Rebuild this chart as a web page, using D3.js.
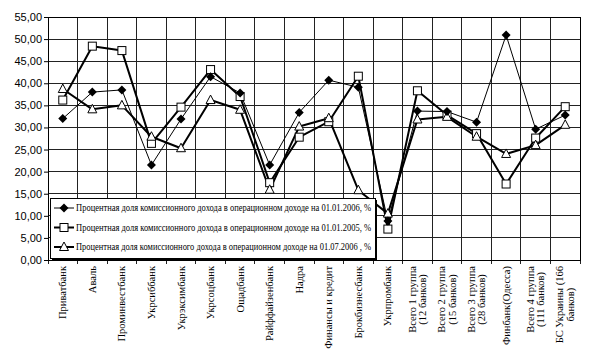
<!DOCTYPE html>
<html>
<head>
<meta charset="utf-8">
<script src="https://cdn.jsdelivr.net/npm/d3@7"></script>
<style>
  body { margin: 0; background: #fff; }
  svg { display: block; }
</style>
</head>
<body>
<div id="chart"></div>
<script>
// categories (banks), "\n" marks a line break in the axis label
var banks = ["Приватбанк", "Аваль", "Проминвестбанк", "Укрсиббанк", "Укрэксимбанк",
  "Укрсоцбанк", "Ощадбанк", "Райффайзенбанк", "Надра", "Финансы и кредит",
  "Брокбизнесбанк", "Укрпромбанк", "Всего 1 группа\n(12 банков)", "Всего 2 группа\n(15 банков)",
  "Всего 3 группа\n(28 банков)", "Финбанк(Одесса)", "Всего 4 группа\n(111 банков)",
  "БС Украины (166\nбанков)"];

var share2006 = [32.0, 38.0, 38.5, 21.5, 31.9, 41.5, 37.8, 21.5, 33.4, 40.7,
  39.1, 8.8, 33.7, 33.6, 31.2, 50.9, 29.6, 32.8];
var share2005 = [36.2, 48.4, 47.4, 26.4, 34.6, 43.1, 37.0, 17.5, 27.8, 31.3,
  41.6, 7.0, 38.3, 32.8, 28.6, 17.2, 27.6, 34.7];
var share2006h = [38.7, 34.1, 35.0, 27.9, 25.3, 36.2, 34.0, 15.9, 30.2, 32.1,
  15.8, 10.5, 31.8, 32.4, 27.9, 24.0, 26.0, 30.6];

var seriesNames = [
  "Процентная доля комиссионного дохода в операционном доходе на  01.01.2006, %",
  "Процентная доля комиссионного дохода в операционном доходе на 01.01.2005, %",
  "Процентная доля комиссионного дохода в операционном доходе на 01.07.2006 , %"
];

var yTicks = [0, 5, 10, 15, 20, 25, 30, 35, 40, 45, 50, 55];

var width = 589, height = 351;
var margin = {top: 17, right: 9, bottom: 91, left: 48};
var plotW = width - margin.left - margin.right,
    plotH = height - margin.top - margin.bottom;

var serif = "'Liberation Serif', 'Times New Roman', 'DejaVu Serif', serif";

var svg = d3.select("#chart").append("svg")
    .attr("width", width)
    .attr("height", height);

var g = svg.append("g")
    .attr("transform", "translate(" + margin.left + "," + margin.top + ")");

var x = d3.scaleBand().domain(d3.range(banks.length)).range([0, plotW]);
var y = d3.scaleLinear().domain([0, 55]).range([plotH, 0]);

// horizontal grid
g.selectAll(".hgrid")
  .data(yTicks)
  .enter().append("line")
    .attr("x1", 0).attr("x2", plotW)
    .attr("y1", function(d) { return y(d); })
    .attr("y2", function(d) { return y(d); })
    .attr("stroke", "#222").attr("stroke-width", 1)
    .attr("shape-rendering", "crispEdges");

// vertical grid at category boundaries
var bounds = d3.range(banks.length + 1).map(function(i) { return i * x.bandwidth(); });
g.selectAll(".vgrid")
  .data(bounds)
  .enter().append("line")
    .attr("x1", function(d) { return d; })
    .attr("x2", function(d) { return d; })
    .attr("y1", 0).attr("y2", plotH + 4)
    .attr("stroke", "#222").attr("stroke-width", 1)
    .attr("shape-rendering", "crispEdges");

// y axis
var yAxis = d3.axisLeft(y)
    .tickValues(yTicks)
    .tickSize(4)
    .tickFormat(function(d) { return d3.format(".2f")(d).replace(".", ","); });

var gy = g.append("g").call(yAxis);
gy.select(".domain").attr("stroke", "#000");
gy.selectAll(".tick line").attr("stroke", "#000");
gy.selectAll("text")
  .attr("x", -6)
  .style("font-family", "'Liberation Sans', Arial, sans-serif")
  .style("font-size", "11px")
  .attr("fill", "#000");

// x axis labels, rotated
var xLab = g.append("g").attr("class", "xlabels");
banks.forEach(function(name, i) {
  var lines = name.split("\n");
  var cx = x(i) + x.bandwidth() / 2;
  var t = xLab.append("text")
    .style("font-family", serif)
    .style("font-size", "10.5px")
    .attr("text-anchor", "middle")
    .attr("fill", "#000");
  lines.forEach(function(l, k) {
    t.append("tspan").attr("x", 0).attr("dy", k == 0 ? 0 : 10.5).text(l);
  });
  var maxLen = d3.max(t.selectAll("tspan").nodes(), function(n) { return n.getComputedTextLength(); });
  var blockH = (lines.length - 1) * 10.5;
  // top of label sits just under the axis
  t.attr("transform", "translate(" + (cx + 3.5 - blockH / 2) + "," + (plotH + 6 + maxLen / 2) + ") rotate(-90)");
});

// series
var series = [
  {values: share2005, width: 2, marker: "square"},
  {values: share2006h, width: 2, marker: "triangle"},
  {values: share2006, width: 1, marker: "diamond"}
];

var line = d3.line()
    .x(function(d, i) { return x(i) + x.bandwidth() / 2; })
    .y(function(d) { return y(d); });

series.forEach(function(s) {
  g.append("path")
    .datum(s.values)
    .attr("d", line)
    .attr("fill", "none")
    .attr("stroke", "#000")
    .attr("stroke-width", s.width)
    .attr("stroke-linejoin", "round");
});

function drawMarker(sel, type, cx, cy) {
  if (type == "diamond") {
    sel.append("path")
      .attr("d", "M" + cx + "," + (cy - 4.5) + "L" + (cx + 4.5) + "," + cy + "L" + cx + "," + (cy + 4.5) + "L" + (cx - 4.5) + "," + cy + "Z")
      .attr("fill", "#000");
  } else if (type == "square") {
    sel.append("rect")
      .attr("x", cx - 4).attr("y", cy - 4)
      .attr("width", 8).attr("height", 8)
      .attr("fill", "#fff").attr("stroke", "#000").attr("stroke-width", 1);
  } else {
    sel.append("path")
      .attr("d", "M" + cx + "," + (cy - 5) + "L" + (cx + 4.5) + "," + (cy + 3.5) + "L" + (cx - 4.5) + "," + (cy + 3.5) + "Z")
      .attr("fill", "#fff").attr("stroke", "#000").attr("stroke-width", 1);
  }
}

series.forEach(function(s) {
  var mg = g.append("g");
  s.values.forEach(function(v, i) {
    drawMarker(mg, s.marker, x(i) + x.bandwidth() / 2, y(v));
  });
});

// plot border
g.append("rect")
  .attr("width", plotW).attr("height", plotH)
  .attr("fill", "none").attr("stroke", "#000")
  .attr("shape-rendering", "crispEdges");

// legend
var lx = 50, ly = 198, lw = 325, lh = 60;
var legend = svg.append("g");
legend.append("rect")
  .attr("x", lx + 2).attr("y", ly + 2).attr("width", lw).attr("height", lh)
  .attr("fill", "#000");
legend.append("rect")
  .attr("x", lx).attr("y", ly).attr("width", lw).attr("height", lh)
  .attr("fill", "#fff").attr("stroke", "#000").attr("stroke-width", 1)
  .attr("shape-rendering", "crispEdges");

var legendOrder = [
  {name: seriesNames[0], width: 1, marker: "diamond"},
  {name: seriesNames[1], width: 2, marker: "square"},
  {name: seriesNames[2], width: 2, marker: "triangle"}
];
legendOrder.forEach(function(s, i) {
  var yy = ly + 10 + i * 19.5;
  legend.append("line")
    .attr("x1", lx + 4).attr("x2", lx + 24)
    .attr("y1", yy).attr("y2", yy)
    .attr("stroke", "#000").attr("stroke-width", s.width);
  drawMarker(legend, s.marker, lx + 14, yy);
  legend.append("text")
    .attr("x", lx + 26).attr("y", yy + 3)
    .attr("textLength", 295)
    .attr("lengthAdjust", "spacingAndGlyphs")
    .style("font-family", serif)
    .style("font-size", "9.5px")
    .attr("fill", "#000")
    .text(s.name);
});
</script>
</body>
</html>
